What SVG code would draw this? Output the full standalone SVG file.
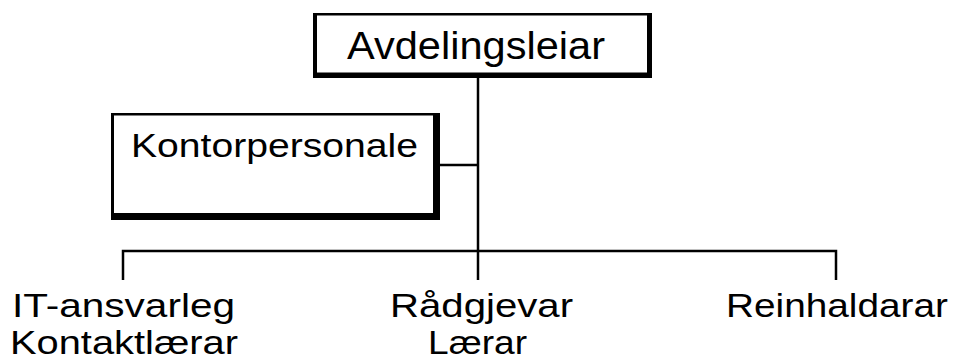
<svg xmlns="http://www.w3.org/2000/svg" width="955" height="361" viewBox="0 0 955 361">
<style>
.t{font-family:"Liberation Sans",Arial,sans-serif;font-size:33px;fill:#000}
.big{font-size:38px}
.mid{font-size:34px}
.ln{stroke:#000;stroke-width:2.5;fill:none}
.frame{fill:#000}
.inner{fill:#fff}
</style>
<rect width="955" height="361" fill="#fff"/>
<g id="connectors">
<line class="ln" x1="478" y1="76" x2="478" y2="280"/>
<line class="ln" x1="439" y1="165" x2="478" y2="165"/>
<polyline class="ln" points="123,280 123,251 836,251 836,280"/>
</g>
<g id="avdelingsleiar">
<rect class="frame" x="313" y="13" width="339" height="65"/>
<rect class="inner" x="317" y="15.5" width="330" height="57"/>
<text class="t big" x="347" y="59" textLength="258" lengthAdjust="spacingAndGlyphs">Avdelingsleiar</text>
</g>
<g id="kontorpersonale">
<rect class="frame" x="111" y="113" width="329" height="107"/>
<rect class="inner" x="114" y="115.5" width="319" height="97.5"/>
<text class="t mid" x="131" y="157" textLength="287" lengthAdjust="spacingAndGlyphs">Kontorpersonale</text>
</g>
<g id="it-ansvarleg">
<text class="t" x="12" y="317" textLength="223" lengthAdjust="spacingAndGlyphs">IT-ansvarleg</text>
<text class="t" x="10" y="354" textLength="228" lengthAdjust="spacingAndGlyphs">Kontaktlærar</text>
</g>
<g id="raadgjevar">
<text class="t" x="390" y="317" textLength="183" lengthAdjust="spacingAndGlyphs">Rådgjevar</text>
<text class="t" x="428" y="354" textLength="99" lengthAdjust="spacingAndGlyphs">Lærar</text>
</g>
<g id="reinhaldarar">
<text class="t" x="726" y="317" textLength="222" lengthAdjust="spacingAndGlyphs">Reinhaldarar</text>
</g>
</svg>
